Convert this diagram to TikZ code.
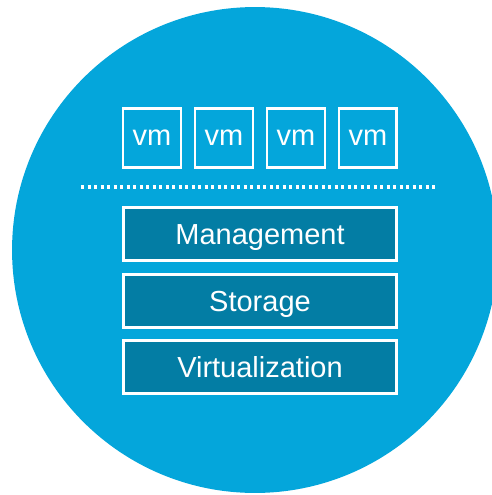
\documentclass[tikz,border=0pt]{standalone}
\usepackage{fontspec}
\setmainfont{Liberation Sans}
\usepackage{tikz}
\usetikzlibrary{positioning}
\definecolor{hostblue}{RGB}{4,166,219}
\definecolor{layerteal}{RGB}{3,125,164}
\tikzset{vmbox/.style = {shape=rectangle,draw=white,line width=1.7pt,
    minimum width=1.16cm,minimum height=1.18cm,inner sep=0pt,
    text height=8.6pt,text depth=0pt,
    text=white,font=\fontsize{16.5}{20}\selectfont}}
\tikzset{layer/.style = {shape=rectangle,draw=white,fill=layerteal,line width=1.7pt,
    minimum width=5.48cm,minimum height=1.06cm,inner sep=0pt,
    text height=11.8pt,text depth=0pt,
    text=white,font=\fontsize{16.5}{20}\selectfont}}
\begin{document}
\begin{tikzpicture}[x=0.02cm,y=-0.02cm]
    \clip (0,0) rectangle (492,495);
    \fill[hostblue] (255,250) circle [radius=4.86cm];

    \node[vmbox] (vm1) at (152,138) {vm};
    \node[vmbox] (vm2) at (224,138) {vm};
    \node[vmbox] (vm3) at (296,138) {vm};
    \node[vmbox] (vm4) at (368,138) {vm};

    \coordinate (sepL) at (81,187);
    \coordinate (sepR) at (438,187);
    \draw[white,line width=1.9pt,dash pattern=on 1.8pt off 1.9pt] (sepL) -- (sepR);

    \node[layer] (M) at (260,234) {Management};
    \node[layer] (S) at (260,301) {Storage};
    \node[layer] (V) at (260,367) {Virtualization};
\end{tikzpicture}
\end{document}
